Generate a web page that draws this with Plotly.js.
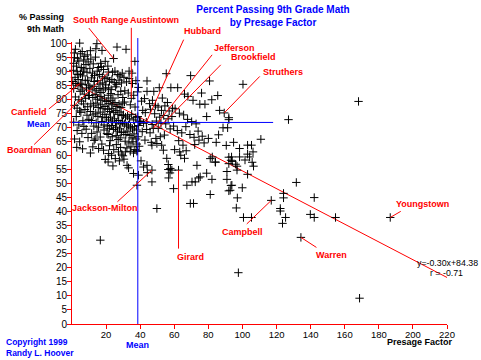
<!DOCTYPE html>
<html><head><meta charset="utf-8">
<script src="https://cdn.plot.ly/plotly-3.0.1.min.js"></script>
<style>html,body{margin:0;padding:0;background:#fff}</style>
</head><body><div id="chart" style="width:481px;height:360px"></div>
<script>
// ---------------- DATA ----------------
const presage = [
 0.0, 8.4, 4.5, 1.3, 4.9, 2.0, 6.0, 7.5, 3.2, 9.0,
 1.0, 2.6, 4.0, 5.5, 6.8, 8.2, 9.5, 0.8, 3.0, 5.0,
 7.0, 8.8, 1.8, 3.6, 6.2, 9.2, 0.5, 2.2, 4.9, 7.8,
 5.8, 9.8, 3.4, 1.5, 6.6,
 1.0, 3.5, 4.8, 2.0, 4.0, 1.5, 3.0, 4.5, 2.5, 1.0,
 4.0, 3.0, 1.5, 4.5, 2.8, 6.0, 7.2, 8.5, 9.6, 5.5,
 6.8, 8.0, 9.2, 5.2, 7.6, 8.8, 6.4, 9.9, 7.0, 5.8,
 8.3, 6.2, 9.4,
 14.6, 17.6, 19.5, 11.0, 12.5, 13.8, 15.5, 16.8, 18.5, 10.5,
 12.0, 13.2, 14.8, 16.2, 17.8, 19.2, 11.5, 13.0, 15.0, 16.5,
 18.0, 19.8, 10.8, 14.0, 17.2,
 10.5, 11.8, 13.0, 14.5, 15.8, 17.0, 18.3, 19.6, 10.2, 12.2,
 13.6, 15.0, 16.4, 17.7, 19.0, 11.0, 12.6, 14.0, 15.4, 16.8,
 18.2, 19.4, 10.8, 12.4, 13.9, 15.2, 16.6, 18.0, 19.3, 11.4,
 14.2, 17.4, 12.8, 15.6, 18.8,
 14.7, 16.6, 20.5, 15.6, 18.5, 21.5, 19.5, 11.5, 13.0, 12.2,
 17.5, 10.8, 18.8, 13.6,
 24.4, 26.4, 21.0, 21.5, 23.8, 25.2, 26.8, 28.2, 29.5, 20.6,
 22.0, 23.4, 24.8, 26.2, 27.6, 29.0, 21.5, 23.0, 25.6, 28.6,
 21.3, 22.8, 27.0, 24.0, 29.8,
 20.4, 21.6, 22.8, 24.0, 25.2, 26.4, 27.6, 28.8, 29.8, 20.9,
 22.1, 23.3, 24.5, 25.7, 26.9, 28.1, 29.3, 20.2, 21.4, 22.6,
 23.8, 25.0, 26.2, 27.4, 28.6, 29.6, 20.7, 21.9, 23.1, 24.3,
 25.5, 26.7, 27.9, 29.1, 21.2, 23.6, 25.9, 28.3, 22.4, 27.1,
 27.3, 22.0, 24.5, 26.0, 28.5, 23.2, 25.4, 29.2, 21.2, 24.0,
 27.8, 16.6,
 31.7, 36.9, 34.8, 30.5, 32.0, 33.5, 35.5, 37.5, 39.0, 31.0,
 33.0, 36.2, 38.4, 30.8, 34.2, 37.0, 33.5, 35.2,
 30.2, 31.4, 32.6, 33.8, 35.0, 36.2, 37.4, 38.6, 39.6, 30.7,
 31.9, 33.1, 34.3, 35.5, 36.7, 37.9, 39.1, 30.4, 31.6, 32.8,
 34.0, 35.2, 36.4, 37.6, 38.8, 31.2, 33.4, 35.8, 38.0, 39.4,
 32.2, 34.6, 36.9, 38.3, 29.9, 31.3, 34.2, 36.1, 38.1,
 32.3, 33.2, 36.1, 39.0, 38.1, 42.0, 44.0, 44.2, 46.9, 46.9,
 30.5, 40.5,
 44.0, 51.2, 44.0, 48.0, 40.8, 42.5, 45.5, 47.2, 49.0, 41.5,
 43.0, 46.0, 48.5, 40.3, 42.0, 43.6, 47.0, 49.5, 41.2, 43.8,
 45.8, 47.7, 42.8, 46.5, 49.2,
 55.3, 58.0, 62.0, 53.0, 56.0, 50.5, 52.5, 54.5, 57.0, 59.0,
 51.5, 53.8, 56.4, 58.6, 52.2, 50.6, 55.0, 57.6, 59.6, 52.6,
 53.6, 55.6, 56.5, 56.5, 57.5, 46.9, 49.8, 51.8, 54.2,
 69.6, 80.7, 82.0, 71.0, 75.0, 78.0, 66.0, 92.0, 100.3, 85.5,
 86.6, 89.3, 92.0, 88.6, 91.3, 84.6, 94.8, 90.5, 98.3, 82.3,
 93.6, 93.3, 84.2, 98.3, 96.8, 96.8, 60.5, 63.0, 65.5, 67.8,
 70.2, 72.8, 61.8, 64.4, 66.8, 69.2, 71.6, 74.0, 76.4, 62.6,
 65.1, 66.0, 63.2, 72.0, 74.5, 77.5, 80.0, 81.1, 84.0, 86.0,
 68.0, 76.0, 79.0, 92.0, 92.0, 94.0, 96.0, 60.2, 63.8, 67.0,
 56.7, 59.6, 57.7, 58.6, 67.4, 70.4, 72.3, 74.3, 73.3, 82.1,
 81.1, 69.4, 71.3, 75.2, 92.8, 93.8, 96.4, 90.9, 79.0, 90.9,
 93.3, 92.0, 99.9, 97.0, 49.8, 62.5,
 110.8, 103.0, 105.3, 103.0, 106.2, 105.7, 106.5, 103.0, 131.6, 124.1,
 124.1, 142.1, 116.9, 122.2, 122.2, 139.8, 142.1, 125.3, 100.6, 105.3,
 154.6, 123.5, 186.7, 134.3, 168.1, 168.7, 127.0, 101.5, 104.2, 97.6
];
const passing = [
 103.0, 102.0, 100.2, 96.7, 96.4, 98.0, 97.2, 95.5, 94.8, 96.0,
 93.0, 92.0, 93.8, 91.5, 94.2, 92.6, 93.5, 90.5, 90.0, 89.2,
 91.0, 89.8, 88.0, 87.2, 88.5, 87.0, 86.5, 85.8, 85.9, 86.8,
 85.4, 85.2, 89.0, 95.0, 90.2,
 84.0, 85.0, 83.0, 81.0, 80.0, 78.0, 77.0, 76.0, 74.0, 72.0,
 71.0, 69.0, 66.0, 65.0, 63.0, 83.5, 82.0, 84.2, 81.5, 79.5,
 78.5, 80.5, 77.5, 75.5, 76.5, 74.5, 72.5, 73.0, 70.5, 68.0,
 69.5, 62.5, 66.5,
 100.0, 97.6, 93.7, 94.5, 92.8, 95.2, 91.5, 93.0, 90.8, 91.2,
 89.5, 88.6, 90.2, 89.0, 88.2, 87.5, 87.8, 86.5, 86.8, 85.6,
 86.0, 85.3, 97.5, 98.2, 91.8,
 84.5, 83.8, 84.8, 83.2, 84.0, 82.6, 83.5, 84.2, 81.5, 80.8,
 81.8, 80.2, 81.2, 79.8, 80.6, 78.5, 77.8, 78.8, 77.2, 78.2,
 76.8, 77.6, 75.8, 74.6, 75.2, 74.0, 75.6, 73.8, 74.8, 72.6,
 71.8, 72.2, 70.6, 70.2, 71.0,
 68.5, 66.7, 67.9, 62.6, 62.0, 60.8, 58.7, 68.0, 65.5, 63.2,
 64.2, 61.0, 69.2, 66.0,
 94.7, 98.8, 92.0, 89.9, 89.8, 90.2, 89.0, 88.5, 89.5, 87.8,
 86.6, 87.2, 86.2, 85.5, 87.0, 86.0, 84.2, 83.6, 84.6, 83.0,
 81.6, 82.2, 81.8, 80.6, 80.8,
 79.4, 78.6, 79.8, 78.2, 79.0, 77.6, 78.4, 77.2, 78.8, 76.6,
 75.8, 76.8, 75.4, 76.2, 74.8, 75.6, 74.4, 73.6, 72.8, 73.8,
 72.4, 73.2, 71.8, 72.6, 71.4, 72.0, 70.6, 69.8, 70.8, 69.4,
 70.2, 68.8, 69.6, 68.4, 67.6, 66.8, 67.2, 66.4, 65.4, 65.8,
 61.4, 63.6, 62.2, 64.0, 63.0, 60.2, 59.0, 60.6, 57.8, 56.4,
 58.2, 29.9,
 98.0, 93.7, 80.5, 88.0, 86.4, 87.6, 85.8, 86.8, 84.4, 83.2,
 82.4, 81.6, 82.8, 79.2, 78.2, 77.4, 90.2, 89.5,
 74.6, 73.8, 74.2, 73.2, 74.8, 72.8, 73.6, 74.0, 72.4, 71.4,
 70.6, 71.0, 70.2, 69.6, 70.4, 69.2, 70.8, 68.4, 67.6, 68.8,
 67.2, 66.4, 67.8, 66.0, 66.8, 65.2, 64.6, 65.0, 64.2, 63.4,
 62.8, 63.2, 62.2, 61.8, 60.0, 61.4, 61.6, 61.0, 61.6,
 56.6, 55.7, 53.7, 53.1, 49.5, 56.0, 56.6, 54.0, 54.9, 50.7,
 58.8, 58.2,
 86.7, 84.3, 83.0, 83.0, 79.5, 80.4, 78.6, 79.8, 78.0, 76.2,
 75.4, 76.6, 75.0, 72.2, 71.6, 72.0, 71.2, 72.4, 68.6, 69.4,
 68.2, 69.8, 65.6, 64.8, 66.2,
 89.3, 84.3, 84.3, 80.6, 79.0, 77.4, 76.2, 77.8, 76.0, 77.0,
 73.8, 74.4, 73.2, 74.0, 71.6, 69.8, 71.4, 69.6, 70.6, 63.8,
 62.0, 59.1, 56.9, 55.1, 53.9, 63.8, 64.4, 66.8, 67.4,
 88.6, 86.7, 80.0, 79.8, 78.4, 78.4, 82.0, 73.6, 85.5, 81.5,
 76.2, 75.3, 72.9, 70.0, 70.0, 64.8, 64.8, 63.7, 62.6, 59.6,
 59.6, 58.4, 57.7, 59.6, 56.3, 54.9, 76.8, 75.2, 74.6, 73.0,
 72.2, 71.4, 69.0, 68.2, 70.4, 67.6, 66.6, 68.8, 67.0, 65.4,
 63.8, 59.1, 61.4, 64.0, 65.6, 64.6, 66.2, 59.0, 57.8, 67.5,
 81.2, 82.4, 74.0, 59.5, 57.2, 58.0, 57.0, 62.2, 60.2, 61.8,
 52.1, 48.3, 55.5, 54.9, 49.5, 50.7, 50.7, 52.1, 56.6, 51.6,
 46.2, 43.0, 43.0, 52.5, 47.7, 49.5, 41.4, 54.4, 53.8, 51.6,
 49.4, 47.5, 48.6, 45.0, 41.2, 54.9,
 65.9, 63.8, 63.8, 60.6, 61.4, 57.7, 56.3, 53.4, 50.5, 46.6,
 45.0, 45.1, 44.1, 41.2, 40.3, 39.1, 38.0, 38.0, 38.0, 38.0,
 38.0, 35.9, 38.0, 30.9, 79.4, 9.2, 72.9, 58.5, 59.6, 18.3
];

const labelNames   = ['Canfield','Boardman','South Range','Austintown','Hubbard','Jefferson','Brookfield','Struthers','Jackson-Milton','Girard','Campbell','Warren','Youngstown'];
const labelPresage = [4.9, 21.5, 24.4, 34.8, 43.6, 47.7, 50.6, 89.3, 46.9, 62.5, 116.9, 134.3, 186.7];
const labelPassing = [85.9, 89.9, 94.7, 80.5, 72.0, 69.8, 69.8, 75.3, 54.9, 54.9, 44.1, 30.9, 38.0];

const meanPresage = 38.6;
const meanPassing = 71.9;
const meanPassingLineEnd = 118;
const regPresage = [0, 220];
const regPassing = [86.3, 16.6];
const regEquation = 'y=-0.30x+84.38';
const regR = 'r = -0.71';

const xTicks = [20, 40, 60, 80, 100, 120, 140, 160, 180, 200, 220];
const yTicks = [0, 5, 10, 15, 20, 25, 30, 35, 40, 45, 50, 55, 60, 65, 70, 75, 80, 85, 90, 95, 100];

// ---------------- STYLE ----------------
const FONT = 'Liberation Sans, Arial, sans-serif';
const RED = '#ff0000', BLUE = '#0000ff';
// [leader tail dx, dy, text dx, dy] in pixels (dy of text: up positive)
const labelOffsets = [
 [-33, 27, -51, -29],
 [-76, 74, -79, -78],
 [-26, -32, -13, 39],
 [0, -72, 23, 78],
 [38, -84, 56, 91],
 [60, -75, 81, 80],
 [64, -65, 95, 71],
 [37, -38, 59, 41],
 [-36, 33, -47, -38],
 [0, 80, 12, -87],
 [-26, 25, -29, -32],
 [17, 11, 31, -18],
 [12, -7, 32, 13]
];

const traces = [
  {
    x: regPresage, y: regPassing, type: 'scatter', mode: 'lines',
    line: {color: RED, width: 1}, hoverinfo: 'skip'
  },
  {
    x: presage, y: passing, type: 'scatter', mode: 'markers',
    cliponaxis: false,
    marker: {symbol: 'cross-thin', size: 6, color: '#000', line: {color: '#000', width: 1}}
  }
];

const annotations = [];
labelNames.forEach((name, i) => {
  const o = labelOffsets[i];
  annotations.push({
    x: labelPresage[i], y: labelPassing[i], xref: 'x', yref: 'y',
    text: '', showarrow: true, arrowhead: 0, arrowwidth: 1, arrowcolor: RED,
    ax: o[0], ay: o[1], axref: 'pixel', ayref: 'pixel', font: {size: 1}
  });
  annotations.push({
    x: labelPresage[i], y: labelPassing[i], xref: 'x', yref: 'y',
    text: name, showarrow: false, xshift: o[2], yshift: o[3],
    xanchor: 'center', yanchor: 'middle',
    font: {family: FONT, size: 9, color: RED, weight: 'bold'}
  });
});
annotations.push(
  {text: '% Passing<br>9th Math', xref: 'paper', yref: 'paper', x: -0.016, y: 1.069,
   xanchor: 'right', yanchor: 'middle', align: 'right', showarrow: false,
   font: {family: FONT, size: 9, color: '#000', weight: 'bold'}},
  {text: 'Mean', xref: 'paper', yref: 'y', x: -0.0893, y: meanPassing, yshift: -1.5,
   xanchor: 'center', yanchor: 'middle',
   showarrow: false, font: {family: FONT, size: 9, color: BLUE, weight: 'bold'}},
  {text: 'Mean', xref: 'x', yref: 'paper', x: meanPresage, y: -0.0755,
   xanchor: 'center', yanchor: 'middle',
   showarrow: false, font: {family: FONT, size: 9, color: BLUE, weight: 'bold'}},
  {text: 'Presage Factor', xref: 'paper', yref: 'paper', x: 0.928, y: -0.065,
   xanchor: 'center', yanchor: 'middle',
   showarrow: false, font: {family: FONT, size: 9, color: '#000', weight: 'bold'}},
  {text: 'Copyright 1999<br>Randy L. Hoover', xref: 'paper', yref: 'paper', x: -0.181, y: -0.085,
   xanchor: 'left', yanchor: 'middle', align: 'left', showarrow: false,
   font: {family: FONT, size: 8.5, color: BLUE, weight: 'bold'}},
  {text: regEquation, xref: 'paper', yref: 'paper', x: 0.915, y: 0.2163,
   xanchor: 'left', yanchor: 'middle', showarrow: false,
   font: {family: FONT, size: 8.8, color: '#000'}},
  {text: regR, xref: 'paper', yref: 'paper', x: 0.949, y: 0.181,
   xanchor: 'left', yanchor: 'middle', showarrow: false,
   font: {family: FONT, size: 8.8, color: '#000'}}
);

const layout = {
  width: 481, height: 360,
  margin: {l: 72, r: 34, t: 42, b: 36, pad: 0},
  paper_bgcolor: '#fff', plot_bgcolor: '#fff',
  showlegend: false,
  title: {
    text: 'Percent Passing 9th Grade Math<br>by Presage Factor',
    font: {family: FONT, size: 10, color: BLUE, weight: 'bold'},
    xref: 'container', x: 0.5676, xanchor: 'center',
    yref: 'container', y: 0.963, yanchor: 'top'
  },
  xaxis: {
    range: [0, 220], showgrid: false, zeroline: false,
    showline: true, linecolor: RED, linewidth: 1,
    ticks: 'outside', ticklen: 4, tickwidth: 1, tickcolor: RED,
    ticklabelstandoff: -2,
    tickmode: 'array', tickvals: xTicks,
    tickfont: {family: FONT, size: 9.5, color: '#000'}
  },
  yaxis: {
    range: [0, 100.6], showgrid: false, zeroline: false,
    showline: true, linecolor: RED, linewidth: 1,
    ticks: 'outside', ticklen: 4, tickwidth: 1, tickcolor: RED,
    ticklabelstandoff: -2,
    tickmode: 'array', tickvals: yTicks,
    tickfont: {family: FONT, size: 10, color: '#000'}
  },
  shapes: [
    {type: 'line', xref: 'x', yref: 'y', x0: 0, x1: meanPassingLineEnd, y0: meanPassing, y1: meanPassing,
     line: {color: BLUE, width: 1}},
    {type: 'line', xref: 'x', yref: 'paper', x0: meanPresage, x1: meanPresage, y0: 0, y1: 1.014,
     line: {color: BLUE, width: 1}}
  ],
  annotations: annotations
};

Plotly.newPlot('chart', traces, layout, {displayModeBar: false, staticPlot: true});
</script>
</body></html>
